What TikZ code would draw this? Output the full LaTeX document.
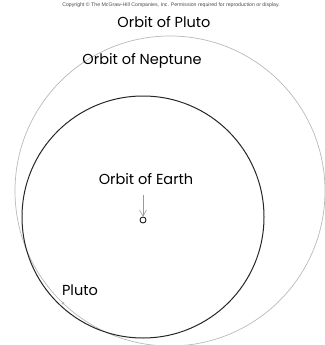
\documentclass[tikz,border=0pt]{standalone}
\usepackage{fontspec}
\setmainfont{Poppins}
\newfontfamily\notefont{Liberation Sans}
\usetikzlibrary{arrows,arrows.meta,positioning,shapes}

\begin{document}
\begin{tikzpicture}[x=1pt, y=-1pt]
        \tikzstyle{label} = [inner sep=0pt, font=\fontsize{14.5}{16}\selectfont]
        \tikzstyle{arrow} = [-{Straight Barb[length=6pt,width=7pt]}, draw=gray!80, line width=0.6pt]
        \useasboundingbox (0,0) rectangle (324,345);
        % orbits
        \draw[gray!55, line width=0.7pt] (170,191) circle (155);
        \draw[black!85, line width=1pt] (143,217) circle (121);
        \node (copy) [inner sep=0pt, font=\notefont\fontsize{5.2}{6}\selectfont, text=black!70] at (171,5) {Copyright \textcopyright\ The McGraw-Hill Companies, Inc. Permission required for reproduction or display.};
        \node (pluto) [label] at (164,22) {Orbit of Pluto};
        \node (neptune) [label] at (142,61) {Orbit of Neptune};
        \node (orbearth) [label] at (146,179) {Orbit of Earth};
        \node (plutolbl) [label] at (80,290) {Pluto};
        \node (earth) [circle, draw, line width=0.8pt, minimum size=6pt, inner sep=0pt] at (143,220) {};
        \node (plutodot) [circle, fill=gray!60, minimum size=3pt, inner sep=0pt] at (63,303) {};
        \coordinate (arrtop) at (143,195);
        \draw[arrow] (arrtop)--(earth.north);
    \end{tikzpicture}
\end{document}
